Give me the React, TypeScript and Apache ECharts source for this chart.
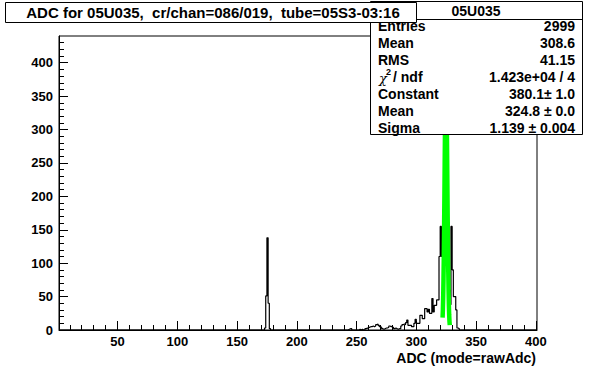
import React, { useEffect, useRef } from 'react';
import * as echarts from 'echarts';

// ---- data ----
const histBins = [
  173, 174, 175, 176, 177,
  243, 244, 245, 252, 254, 257, 258, 259, 260, 261, 262, 263, 264, 265, 266, 267, 268, 269, 270,
  271, 272, 273, 274, 275, 276, 277, 278, 279, 280, 281, 282, 283, 284, 285, 286, 287, 288, 289, 290,
  291, 292, 293, 294, 295, 296, 297, 298, 299, 300, 301, 302, 303, 304, 305, 306, 307, 308, 309, 310,
  311, 312, 313, 314, 315, 316, 317, 318, 319, 320, 321, 322, 323, 324, 325, 326, 327, 328, 329, 330,
  331, 332, 333, 334, 335,
];
const histCounts = [
  3, 51, 138, 40, 2,
  1, 2, 2, 1, 1, 2, 3, 2, 4, 5, 5, 6, 5, 6, 8, 9, 7, 5, 4,
  2, 1, 2, 3, 3, 4, 6, 5, 6, 4, 2, 3, 2, 1, 2, 2, 6, 8, 9, 8,
  11, 15, 7, 7, 7, 5, 5, 10, 16, 10, 10, 10, 22, 22, 17, 17, 32, 32, 27, 31,
  25, 25, 47, 27, 37, 37, 45, 45, 110, 155, 110, 55, 190, 419, 340, 150, 60, 38, 155, 90,
  50, 50, 30, 3, 2,
];
const fitX = [
  322, 322.25, 322.5, 322.75, 323, 323.25, 323.5, 323.75, 324, 324.25, 324.5, 324.75,
  325, 325.25, 325.5, 325.75, 326, 326.25, 326.5, 326.75, 327, 327.25, 327.5, 327.75, 328,
];
const fitY = [
  18.5, 31.0, 49.5, 75.2, 109, 150.6, 198, 248.5, 297, 338, 367, 380,
  374, 351.6, 314.6, 268.4, 218.2, 169, 124.8, 87.8, 58.9, 37.6, 22.9, 13.3, 7.3,
];
const xMajorTicks = [50, 100, 150, 200, 250, 300, 350, 400];
const xMinorTicks = [
  10, 20, 30, 40, 60, 70, 80, 90, 110, 120, 130, 140, 160, 170, 180, 190, 210, 220, 230, 240,
  260, 270, 280, 290, 310, 320, 330, 340, 360, 370, 380, 390,
];
const yMajorTicks = [0, 50, 100, 150, 200, 250, 300, 350, 400];
const yMinorTicks = [
  10, 20, 30, 40, 60, 70, 80, 90, 110, 120, 130, 140, 160, 170, 180, 190, 210, 220, 230, 240,
  260, 270, 280, 290, 310, 320, 330, 340, 360, 370, 380, 390, 410, 420, 430,
];
const titleText = 'ADC for 05U035,  cr/chan=086/019,  tube=05S3-03:16';
const statsTitle = '05U035';
const statsLabels = ['Entries', 'Mean', 'RMS', '', 'Constant', 'Mean', 'Sigma'];
const statsValues = ['2999', '308.6', '41.15', '1.423e+04 / 4', '380.1\u00b1 1.0', '324.8 \u00b1 0.0', '1.139 \u00b1 0.004'];
const xAxisTitle = 'ADC (mode=rawAdc)';
const X_MIN = 1;
const X_MAX = 401;
const Y_MAX = 440;

const FONT = 'Liberation Sans, Arial, Helvetica, sans-serif';

export default function App() {
  const ref = useRef<HTMLDivElement>(null);

  useEffect(() => {
    if (!ref.current) return;
    const chart = echarts.init(ref.current, undefined, { renderer: 'svg' });

    const countMap = new Map<number, number>();
    histBins.forEach((b, i) => countMap.set(b, histCounts[i]));
    const histData: number[][] = [];
    let last = 0;
    for (let n = X_MIN; n < X_MAX; n++) {
      last = countMap.get(n) || 0;
      histData.push([n, last]);
    }
    histData.push([X_MAX, last]);

    const fitData = fitX.map((x, i) => [x, fitY[i]]);

    const rowY = [26, 43, 60, 77, 94, 111, 128];
    const statsEls: any[] = [];
    statsLabels.forEach((lab, i) => {
      if (lab) {
        statsEls.push({
          type: 'text', x: 378, y: rowY[i], z: 101,
          style: { text: lab, fontSize: 14, fontWeight: 'bold', fontFamily: FONT, fill: '#000', align: 'left', verticalAlign: 'middle' },
        });
      }
      statsEls.push({
        type: 'text', x: 575, y: rowY[i], z: 101,
        style: { text: statsValues[i], fontSize: 14, fontWeight: 'bold', fontFamily: FONT, fill: '#000', align: 'right', verticalAlign: 'middle' },
      });
    });
    // chi^2 / ndf label
    statsEls.push({
      type: 'text', x: 379, y: rowY[3] + 1, z: 101,
      style: { text: '\u03c7', fontSize: 13, fontFamily: 'DejaVu Serif, serif', fontStyle: 'italic', fill: '#000', align: 'left', verticalAlign: 'middle' },
    });
    statsEls.push({
      type: 'text', x: 386, y: rowY[3] - 5, z: 101,
      style: { text: '2', fontSize: 9, fontWeight: 'bold', fontFamily: FONT, fill: '#000', align: 'left', verticalAlign: 'middle' },
    });
    statsEls.push({
      type: 'text', x: 393, y: rowY[3], z: 101,
      style: { text: '/ ndf', fontSize: 14, fontWeight: 'bold', fontFamily: FONT, fill: '#000', align: 'left', verticalAlign: 'middle' },
    });

    const axisLabelStyle = { color: '#000', fontWeight: 'bold' as const, fontSize: 13, fontFamily: FONT };

    chart.setOption({
      animation: false,
      backgroundColor: '#fff',
      grid: {
        left: 59, top: 36, width: 478, height: 294,
        show: true, borderColor: '#000', borderWidth: 1, backgroundColor: 'transparent',
        containLabel: false,
      },
      xAxis: [
        {
          type: 'value', min: X_MIN, max: X_MAX, position: 'bottom',
          axisLine: { show: true, onZero: false, lineStyle: { color: '#000', width: 1 } },
          axisTick: { show: true, inside: true, length: 9, customValues: xMajorTicks, lineStyle: { color: '#000' } },
          axisLabel: { ...axisLabelStyle, customValues: xMajorTicks, margin: 5 },
          splitLine: { show: false },
        },
        {
          type: 'value', min: X_MIN, max: X_MAX, position: 'bottom',
          axisLine: { show: false },
          axisTick: { show: true, inside: true, length: 5, customValues: xMinorTicks, lineStyle: { color: '#000' } },
          axisLabel: { show: false },
          splitLine: { show: false },
        },
      ],
      yAxis: [
        {
          type: 'value', min: 0, max: Y_MAX, position: 'left',
          axisLine: { show: true, onZero: false, lineStyle: { color: '#000', width: 1 } },
          axisTick: { show: true, inside: true, length: 9, customValues: yMajorTicks, lineStyle: { color: '#000' } },
          axisLabel: { ...axisLabelStyle, customValues: yMajorTicks, margin: 6 },
          splitLine: { show: false },
        },
        {
          type: 'value', min: 0, max: Y_MAX, position: 'left',
          axisLine: { show: false },
          axisTick: { show: true, inside: true, length: 5, customValues: yMinorTicks, lineStyle: { color: '#000' } },
          axisLabel: { show: false },
          splitLine: { show: false },
        },
      ],
      series: [
        {
          type: 'line', xAxisIndex: 0, yAxisIndex: 0, data: histData, step: 'end',
          symbol: 'none', lineStyle: { color: '#000', width: 1.2 }, z: 2,
        },
        {
          type: 'line', xAxisIndex: 0, yAxisIndex: 0, data: fitData,
          symbol: 'none', lineStyle: { color: '#00ff00', width: 4.5 }, z: 3,
        },
      ],
      graphic: {
        elements: [
          {
            type: 'rect', z: 100,
            shape: { x: 370.5, y: 1.5, width: 212, height: 133 },
            style: { fill: '#fff', stroke: '#000', lineWidth: 1 },
          },
          {
            type: 'line', z: 100,
            shape: { x1: 370.5, y1: 19.5, x2: 582.5, y2: 19.5 },
            style: { stroke: '#000', lineWidth: 1 },
          },
          {
            type: 'text', x: 476, y: 10.5, z: 101,
            style: { text: statsTitle, fontSize: 14, fontWeight: 'bold', fontFamily: FONT, fill: '#000', align: 'center', verticalAlign: 'middle' },
          },
          ...statsEls,
          {
            type: 'rect', z: 110,
            shape: { x: 5.5, y: 2.5, width: 411, height: 20 },
            style: { fill: '#fff', stroke: '#000', lineWidth: 1 },
          },
          {
            type: 'text', x: 213, y: 12.5, z: 111,
            style: { text: titleText, fontSize: 15, fontWeight: 'bold', fontFamily: FONT, fill: '#000', align: 'center', verticalAlign: 'middle' },
          },
          {
            type: 'text', x: 536, y: 358, z: 101,
            style: { text: xAxisTitle, fontSize: 14, fontWeight: 'bold', fontFamily: FONT, fill: '#000', align: 'right', verticalAlign: 'middle' },
          },
        ],
      },
    });

    return () => chart.dispose();
  }, []);

  return (
    <div
      ref={ref}
      style={{ position: 'fixed', left: 0, top: 0, width: 596, height: 368, background: '#fff' }}
    />
  );
}
